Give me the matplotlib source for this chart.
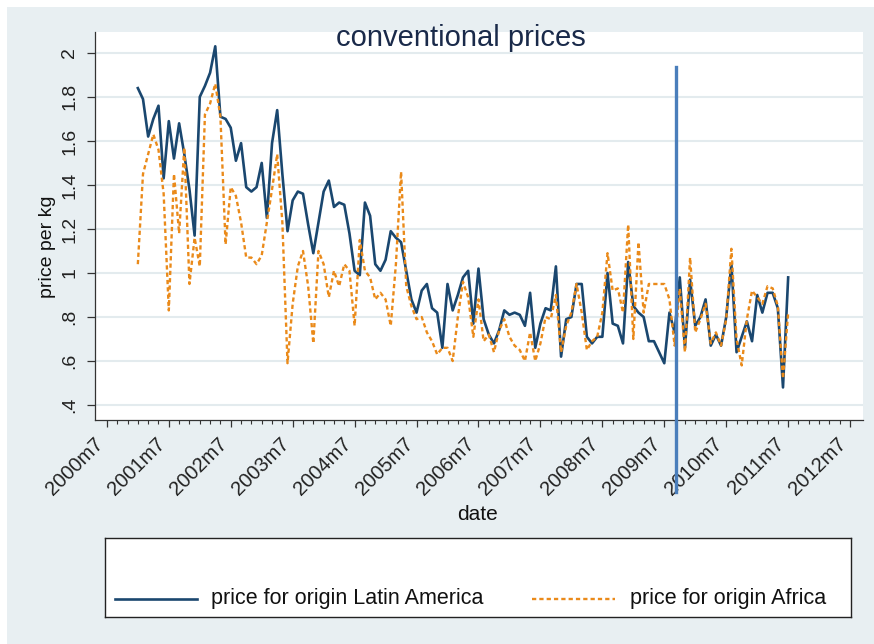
import numpy as np
import matplotlib
matplotlib.use("Agg")
import matplotlib.pyplot as plt
from matplotlib.patches import Rectangle

plt.rcParams['font.family'] = ['Liberation Sans', 'DejaVu Sans']

# monthly prices, 2001m1 .. 2011m7
start_year, start_month = 2001, 1
price_latam = [
    1.84, 1.79, 1.62, 1.70, 1.76, 1.43, 1.69, 1.52, 1.68, 1.54, 1.38, 1.17,
    1.80, 1.85, 1.91, 2.03, 1.71, 1.70, 1.66, 1.51, 1.59, 1.39, 1.37, 1.39,
    1.50, 1.25, 1.59, 1.74, 1.45, 1.19, 1.33, 1.37, 1.36, 1.22, 1.09, 1.23,
    1.37, 1.42, 1.30, 1.32, 1.31, 1.18, 1.01, 0.99, 1.32, 1.26, 1.04, 1.01,
    1.06, 1.19, 1.16, 1.14, 1.01, 0.88, 0.82, 0.92, 0.95, 0.84, 0.82, 0.66,
    0.95, 0.83, 0.90, 0.98, 1.01, 0.77, 1.02, 0.79, 0.72, 0.68, 0.74, 0.83,
    0.81, 0.82, 0.81, 0.76, 0.91, 0.66, 0.77, 0.84, 0.83, 1.03, 0.62, 0.79,
    0.80, 0.95, 0.95, 0.71, 0.68, 0.71, 0.71, 1.00, 0.77, 0.76, 0.68, 1.05,
    0.85, 0.82, 0.80, 0.69, 0.69, 0.64, 0.59, 0.82, 0.73, 0.98, 0.66, 0.97,
    0.76, 0.80, 0.88, 0.67, 0.72, 0.67, 0.80, 1.04, 0.64, 0.71, 0.78, 0.69,
    0.90, 0.82, 0.91, 0.91, 0.84, 0.48, 0.98,
]
price_africa = [
    1.04, 1.45, 1.54, 1.63, 1.56, 1.36, 0.83, 1.45, 1.18, 1.57, 0.95, 1.16,
    1.03, 1.72, 1.77, 1.86, 1.71, 1.13, 1.39, 1.35, 1.23, 1.07, 1.07, 1.04,
    1.08, 1.23, 1.38, 1.54, 1.23, 0.59, 0.86, 1.03, 1.10, 0.94, 0.68, 1.10,
    1.04, 0.89, 1.01, 0.94, 1.04, 1.01, 0.76, 1.15, 1.01, 0.98, 0.88, 0.91,
    0.88, 0.76, 1.04, 1.46, 0.94, 0.85, 0.79, 0.80, 0.73, 0.69, 0.63, 0.66,
    0.66, 0.60, 0.80, 0.96, 0.89, 0.71, 0.88, 0.69, 0.72, 0.64, 0.74, 0.79,
    0.71, 0.67, 0.65, 0.60, 0.73, 0.60, 0.68, 0.80, 0.79, 0.90, 0.64, 0.76,
    0.82, 0.95, 0.82, 0.65, 0.69, 0.71, 0.82, 1.09, 0.92, 0.93, 0.82, 1.22,
    0.70, 1.14, 0.82, 0.95, 0.95, 0.95, 0.95, 0.88, 0.67, 0.93, 0.64, 1.07,
    0.73, 0.79, 0.86, 0.68, 0.73, 0.67, 0.79, 1.11, 0.70, 0.58, 0.79, 0.92,
    0.89, 0.86, 0.94, 0.93, 0.85, 0.52, 0.82,
]
tick_years = list(range(2000, 2013))
y_ticks = [0.4, 0.6, 0.8, 1.0, 1.2, 1.4, 1.6, 1.8, 2.0]
y_labels = [".4", ".6", ".8", "1", "1.2", "1.4", "1.6", "1.8", "2"]
event_year, event_month = 2009, 9


def tm(year, month):
    # stata style monthly date
    return (year - 1960) * 12 + month - 1


months = tm(start_year, start_month) + np.arange(len(price_latam))

W, H = 874, 644
bg = '#e8eff2'
navy = '#1a476f'
orange = '#ea8a1a'
dash = (0, (1.8, 1.3))

fig = plt.figure(figsize=(W / 100, H / 100), dpi=100, facecolor='white')
fig.add_artist(Rectangle((7 / W, 0), 1, 1 - 7 / H, transform=fig.transFigure,
                         facecolor=bg, edgecolor='none', zorder=-10))

ax = fig.add_axes([95 / W, 1 - 420 / H, 768 / W, 388 / H])
ax.set_facecolor('white')

ax.plot(months, price_latam, color=navy, lw=1.9, zorder=3)
ax.plot(months, price_africa, color=orange, lw=1.7, ls=dash, zorder=3)

ax.axvline(tm(event_year, event_month) + 0.2, ymin=-0.186, ymax=0.91,
           color='#4a7ebb', lw=2.4, clip_on=False, zorder=4)

x0 = tm(2000, 7)
ax.set_xlim(x0 - 2.3, x0 + 146.5)
ax.set_ylim(0.332, 2.095)

ax.set_xticks([tm(y, 7) for y in tick_years])
ax.set_xticklabels([f"{y}m7" for y in tick_years], rotation=45, ha='right',
                   fontsize=14.5, color='#222222')
ax.set_xticks(np.arange(tm(2000, 7), tm(2012, 7) + 1, 2), minor=True)
ax.set_yticks(y_ticks)
ax.set_yticklabels(y_labels, rotation=90, va='center', fontsize=14, color='#222222')

ax.tick_params(axis='y', length=6, width=0.9, pad=6, color='#333333')
ax.tick_params(axis='x', which='major', length=5, width=0.9, pad=5, color='#333333')
ax.tick_params(axis='x', which='minor', length=3, width=0.8, color='#333333')

ax.grid(axis='y', color='#e3ebee', lw=1.5)
ax.set_axisbelow(True)
for s in ['top', 'right']:
    ax.spines[s].set_visible(False)
for s in ['left', 'bottom']:
    ax.spines[s].set_color('#333333')
    ax.spines[s].set_linewidth(0.9)

fig.text(461 / W, 1 - 38 / H, "conventional prices", ha='center', va='center',
         fontsize=21, color='#1a2a4a')
fig.text(47 / W, 1 - 247 / H, "price per kg", rotation=90, ha='center', va='center',
         fontsize=14, color='#111111')
fig.text(478 / W, 1 - 514 / H, "date", ha='center', va='center',
         fontsize=15, color='#111111')

# legend box
lg = fig.add_axes([105 / W, 1 - 617 / H, 746 / W, 79 / H])
lg.set_facecolor('white')
lg.set_xticks([])
lg.set_yticks([])
for s in lg.spines.values():
    s.set_color('#222222')
    s.set_linewidth(1.0)
ly = 0.228
lg.plot([0.0134, 0.1233], [ly, ly], color=navy, lw=1.9, transform=lg.transAxes)
lg.text(0.142, ly, "price for origin Latin America", transform=lg.transAxes,
        va='center', fontsize=15.5, color='#111111')
lg.plot([0.572, 0.684], [ly, ly], color=orange, lw=1.7, ls=dash,
        transform=lg.transAxes)
lg.text(0.704, ly, "price for origin Africa", transform=lg.transAxes,
        va='center', fontsize=15.5, color='#111111')

fig.savefig("out.png", dpi=100, facecolor=fig.get_facecolor())
